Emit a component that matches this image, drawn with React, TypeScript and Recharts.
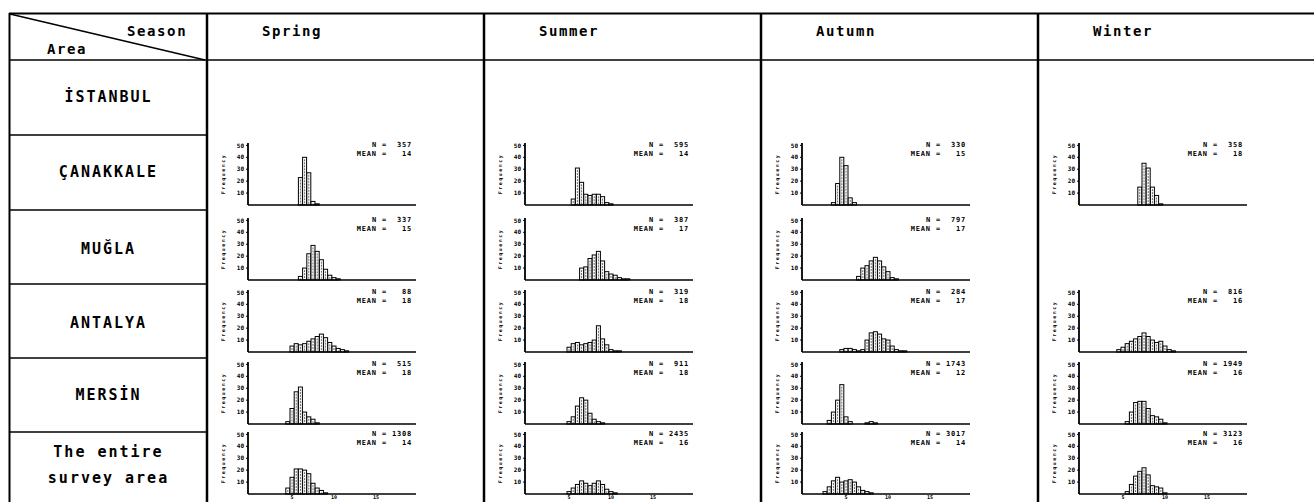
import React from "react";
import { BarChart, Bar, XAxis, YAxis } from "recharts";

// length classes (cm), 0.5 step
const BINS = [
  "0", "0.5", "1", "1.5", "2", "2.5", "3", "3.5", "4", "4.5",
  "5", "5.5", "6", "6.5", "7", "7.5", "8", "8.5", "9", "9.5",
  "10", "10.5", "11", "11.5", "12", "12.5", "13", "13.5", "14", "14.5",
  "15", "15.5", "16", "16.5", "17", "17.5", "18", "18.5", "19", "19.5",
];
const X_TICKS = ["5", "10", "15"];
const Y_TICKS = [10, 20, 30, 40, 50];

const SEASONS = ["Spring", "Summer", "Autumn", "Winter"];
const AREAS = ["İSTANBUL", "ÇANAKKALE", "MUĞLA", "ANTALYA", "MERSİN", "The entire|survey area"];

// frequency (%) per length class
const canakkaleSpring = [0,0,0,0,0,0,0,0,0,0, 0,0,23,40,27,3,1,0,0,0, 0,0,0,0,0,0,0,0,0,0, 0,0,0,0,0,0,0,0,0,0];
const muglaSpring = [0,0,0,0,0,0,0,0,0,0, 0,0,3,10,22,29,24,17,9,4, 2,1,0,0,0,0,0,0,0,0, 0,0,0,0,0,0,0,0,0,0];
const antalyaSpring = [0,0,0,0,0,0,0,0,0,0, 5,7,6,7,9,11,13,15,12,8, 5,3,2,1,0,0,0,0,0,0, 0,0,0,0,0,0,0,0,0,0];
const mersinSpring = [0,0,0,0,0,0,0,0,0,2, 13,27,31,10,6,4,1,0,0,0, 0,0,0,0,0,0,0,0,0,0, 0,0,0,0,0,0,0,0,0,0];
const entireSpring = [0,0,0,0,0,0,0,0,0,5, 14,21,21,20,17,9,5,3,1,0, 0,0,0,0,0,0,0,0,0,0, 0,0,0,0,0,0,0,0,0,0];

const canakkaleSummer = [0,0,0,0,0,0,0,0,0,0, 0,5,31,19,9,8,9,9,7,2, 1,0,0,0,0,0,0,0,0,0, 0,0,0,0,0,0,0,0,0,0];
const muglaSummer = [0,0,0,0,0,0,0,0,0,0, 0,0,0,10,11,18,21,24,16,7, 5,4,2,1,1,0,0,0,0,0, 0,0,0,0,0,0,0,0,0,0];
const antalyaSummer = [0,0,0,0,0,0,0,0,0,0, 4,7,8,6,7,8,10,22,11,6, 2,1,1,0,0,0,0,0,0,0, 0,0,0,0,0,0,0,0,0,0];
const mersinSummer = [0,0,0,0,0,0,0,0,0,0, 2,6,15,22,20,9,4,2,1,0, 0,0,0,0,0,0,0,0,0,0, 0,0,0,0,0,0,0,0,0,0];
const entireSummer = [0,0,0,0,0,0,0,0,0,0, 2,5,8,11,9,7,9,11,8,4, 2,1,0,0,0,0,0,0,0,0, 0,0,0,0,0,0,0,0,0,0];

const canakkaleAutumn = [0,0,0,0,0,0,0,2,18,40, 33,6,2,0,0,0,0,0,0,0, 0,0,0,0,0,0,0,0,0,0, 0,0,0,0,0,0,0,0,0,0];
const muglaAutumn = [0,0,0,0,0,0,0,0,0,0, 0,0,0,3,10,12,16,19,16,11, 7,2,1,0,0,0,0,0,0,0, 0,0,0,0,0,0,0,0,0,0];
const antalyaAutumn = [0,0,0,0,0,0,0,0,0,2, 3,3,2,1,2,10,16,17,15,11, 10,5,2,1,1,0,0,0,0,0, 0,0,0,0,0,0,0,0,0,0];
const mersinAutumn = [0,0,0,0,0,0,3,10,20,33, 6,2,0,0,0,1,2,1,0,0, 0,0,0,0,0,0,0,0,0,0, 0,0,0,0,0,0,0,0,0,0];
const entireAutumn = [0,0,0,0,0,2,6,11,14,10, 11,12,10,6,3,2,1,0,0,0, 0,0,0,0,0,0,0,0,0,0, 0,0,0,0,0,0,0,0,0,0];

const canakkaleWinter = [0,0,0,0,0,0,0,0,0,0, 0,0,0,0,15,35,31,15,8,1, 0,0,0,0,0,0,0,0,0,0, 0,0,0,0,0,0,0,0,0,0];
const antalyaWinter = [0,0,0,0,0,0,0,0,0,2, 4,7,9,11,13,16,13,10,8,9, 5,2,1,0,0,0,0,0,0,0, 0,0,0,0,0,0,0,0,0,0];
const mersinWinter = [0,0,0,0,0,0,0,0,0,0, 0,2,10,18,19,19,13,7,6,4, 1,0,0,0,0,0,0,0,0,0, 0,0,0,0,0,0,0,0,0,0];
const entireWinter = [0,0,0,0,0,0,0,0,0,0, 0,2,8,15,19,22,16,7,6,5, 1,0,0,0,0,0,0,0,0,0, 0,0,0,0,0,0,0,0,0,0];

// row index (1 = ÇANAKKALE ... 5 = entire), season index, values, N, MEAN
const PANELS = [
  { row: 1, col: 0, values: canakkaleSpring, n: "357", mean: "14" },
  { row: 2, col: 0, values: muglaSpring, n: "337", mean: "15" },
  { row: 3, col: 0, values: antalyaSpring, n: "88", mean: "18" },
  { row: 4, col: 0, values: mersinSpring, n: "515", mean: "18" },
  { row: 5, col: 0, values: entireSpring, n: "1308", mean: "14" },
  { row: 1, col: 1, values: canakkaleSummer, n: "595", mean: "14" },
  { row: 2, col: 1, values: muglaSummer, n: "387", mean: "17" },
  { row: 3, col: 1, values: antalyaSummer, n: "319", mean: "18" },
  { row: 4, col: 1, values: mersinSummer, n: "911", mean: "18" },
  { row: 5, col: 1, values: entireSummer, n: "2435", mean: "16" },
  { row: 1, col: 2, values: canakkaleAutumn, n: "330", mean: "15" },
  { row: 2, col: 2, values: muglaAutumn, n: "797", mean: "17" },
  { row: 3, col: 2, values: antalyaAutumn, n: "284", mean: "17" },
  { row: 4, col: 2, values: mersinAutumn, n: "1743", mean: "12" },
  { row: 5, col: 2, values: entireAutumn, n: "3017", mean: "14" },
  { row: 1, col: 3, values: canakkaleWinter, n: "358", mean: "18" },
  { row: 3, col: 3, values: antalyaWinter, n: "816", mean: "16" },
  { row: 4, col: 3, values: mersinWinter, n: "1949", mean: "16" },
  { row: 5, col: 3, values: entireWinter, n: "3123", mean: "16" },
];

const FONT = '"DejaVu Sans Mono", "Liberation Mono", monospace';
const COL_X = [207, 484, 761, 1038];
const ROW_LINES = [60, 135, 210, 284, 358, 432];
const LABEL_Y = [97, 172, 249, 323, 395, 465];
const PLOT_TOP = [0, 143, 218, 290, 362, 432];
const HEADER_X = [292, 569, 846, 1123];

const Y_W = 36;
const PLOT_W = 168;
const PLOT_H = 62;
const TOP_M = 4;
const R_M = 4;
const X_H = 7;

const HatchBar = (props: any) => {
  const { x, y, width, height } = props;
  if (!height || height <= 0) return <g />;
  const cx = x + width / 2;
  return (
    <g>
      <rect x={x} y={y} width={width} height={height} fill="#fff" stroke="#000" strokeWidth={1} />
      {height > 3 && (
        <line x1={cx} x2={cx} y1={y + 2} y2={y + height} stroke="#000" strokeWidth={0.6} strokeDasharray="2 1" />
      )}
    </g>
  );
};

function Panel({ values, n, mean, left, top, showTicks }: any) {
  const data = BINS.map((bin, i) => ({ bin, v: values[i] }));
  const w = Y_W + PLOT_W + R_M;
  return (
    <div style={{ position: "absolute", left: left - Y_W, top: top - TOP_M, width: w }}>
      <BarChart
        width={w}
        height={TOP_M + PLOT_H + X_H}
        data={data}
        margin={{ top: TOP_M, right: R_M, bottom: 0, left: 0 }}
        barCategoryGap={0}
        barGap={0}
      >
        <XAxis
          dataKey="bin"
          interval={0}
          height={X_H}
          axisLine={{ stroke: "#000", strokeWidth: 1.5 }}
          tickLine={false}
          tickSize={0}
          tickMargin={1}
          tick={{ fontSize: 5, fill: "#000", fontFamily: FONT, fontWeight: 700 }}
          tickFormatter={(v: string) => (showTicks && X_TICKS.includes(v) ? v : "")}
        />
        <YAxis
          domain={[0, 52]}
          ticks={Y_TICKS}
          width={Y_W}
          tickSize={2}
          axisLine={{ stroke: "#000", strokeWidth: 1.8 }}
          tickLine={{ stroke: "#000" }}
          tick={{ fontSize: 6, fill: "#000", fontFamily: FONT, fontWeight: 700 }}
          label={{
            value: "Frequency",
            angle: -90,
            position: "insideLeft",
            offset: 11,
            style: { textAnchor: "middle", fontSize: 5, fontFamily: FONT, fontWeight: 700, fill: "#000", letterSpacing: 1.5 },
          }}
        />
        <Bar dataKey="v" isAnimationActive={false} shape={HatchBar} />
      </BarChart>
      <div
        style={{
          position: "absolute",
          right: R_M + 4,
          top: TOP_M - 2,
          fontFamily: FONT,
          fontWeight: 700,
          fontSize: 7,
          lineHeight: "9px",
          whiteSpace: "pre",
          textAlign: "right",
          letterSpacing: 0.8,
        }}
      >
        {`N = ${n.padStart(4, " ")}`}
        <br />
        {`MEAN = ${mean.padStart(4, " ")}`}
      </div>
    </div>
  );
}

export default function App() {
  const textBase: React.CSSProperties = {
    position: "absolute",
    fontFamily: FONT,
    fontWeight: 700,
    color: "#000",
    whiteSpace: "nowrap",
  };
  return (
    <div style={{ position: "absolute", left: 0, top: 0, width: 1314, height: 502, background: "#fff", overflow: "hidden" }}>
      <svg width={1314} height={502} style={{ position: "absolute", left: 0, top: 0 }}>
        <line x1={9} x2={1314} y1={13.5} y2={13.5} stroke="#000" strokeWidth={2} />
        <line x1={9} x2={1314} y1={ROW_LINES[0]} y2={ROW_LINES[0]} stroke="#000" strokeWidth={1.6} />
        <line x1={9.5} x2={9.5} y1={13} y2={502} stroke="#000" strokeWidth={2} />
        {COL_X.map((x) => (
          <line key={x} x1={x} x2={x} y1={13} y2={502} stroke="#000" strokeWidth={2.5} />
        ))}
        {ROW_LINES.slice(1).map((y) => (
          <line key={y} x1={9} x2={207} y1={y} y2={y} stroke="#000" strokeWidth={1.3} />
        ))}
        <line x1={10} y1={14} x2={205} y2={60} stroke="#000" strokeWidth={1.5} />
      </svg>

      <div style={{ ...textBase, fontSize: 14, letterSpacing: 1.6, left: 127, top: 23 }}>Season</div>
      <div style={{ ...textBase, fontSize: 14, letterSpacing: 1.6, left: 47, top: 41 }}>Area</div>

      {SEASONS.map((s, i) => (
        <div
          key={s}
          style={{ ...textBase, fontSize: 14, letterSpacing: 1.6, left: HEADER_X[i] - 60, width: 120, textAlign: "center", top: 23 }}
        >
          {s}
        </div>
      ))}

      {AREAS.map((a, i) => {
        const lines = a.split("|");
        const h = lines.length * 26;
        return (
          <div
            key={a}
            style={{
              ...textBase,
              fontSize: 15,
              letterSpacing: 2,
              left: 10,
              width: 197,
              textAlign: "center",
              top: LABEL_Y[i] - h / 2,
              lineHeight: "26px",
            }}
          >
            {lines.map((l) => (
              <div key={l}>{l}</div>
            ))}
          </div>
        );
      })}

      {PANELS.map((p, i) => (
        <Panel
          key={i}
          values={p.values}
          n={p.n}
          mean={p.mean}
          left={COL_X[p.col] + 41}
          top={PLOT_TOP[p.row]}
          showTicks={p.row === 5}
        />
      ))}
    </div>
  );
}
